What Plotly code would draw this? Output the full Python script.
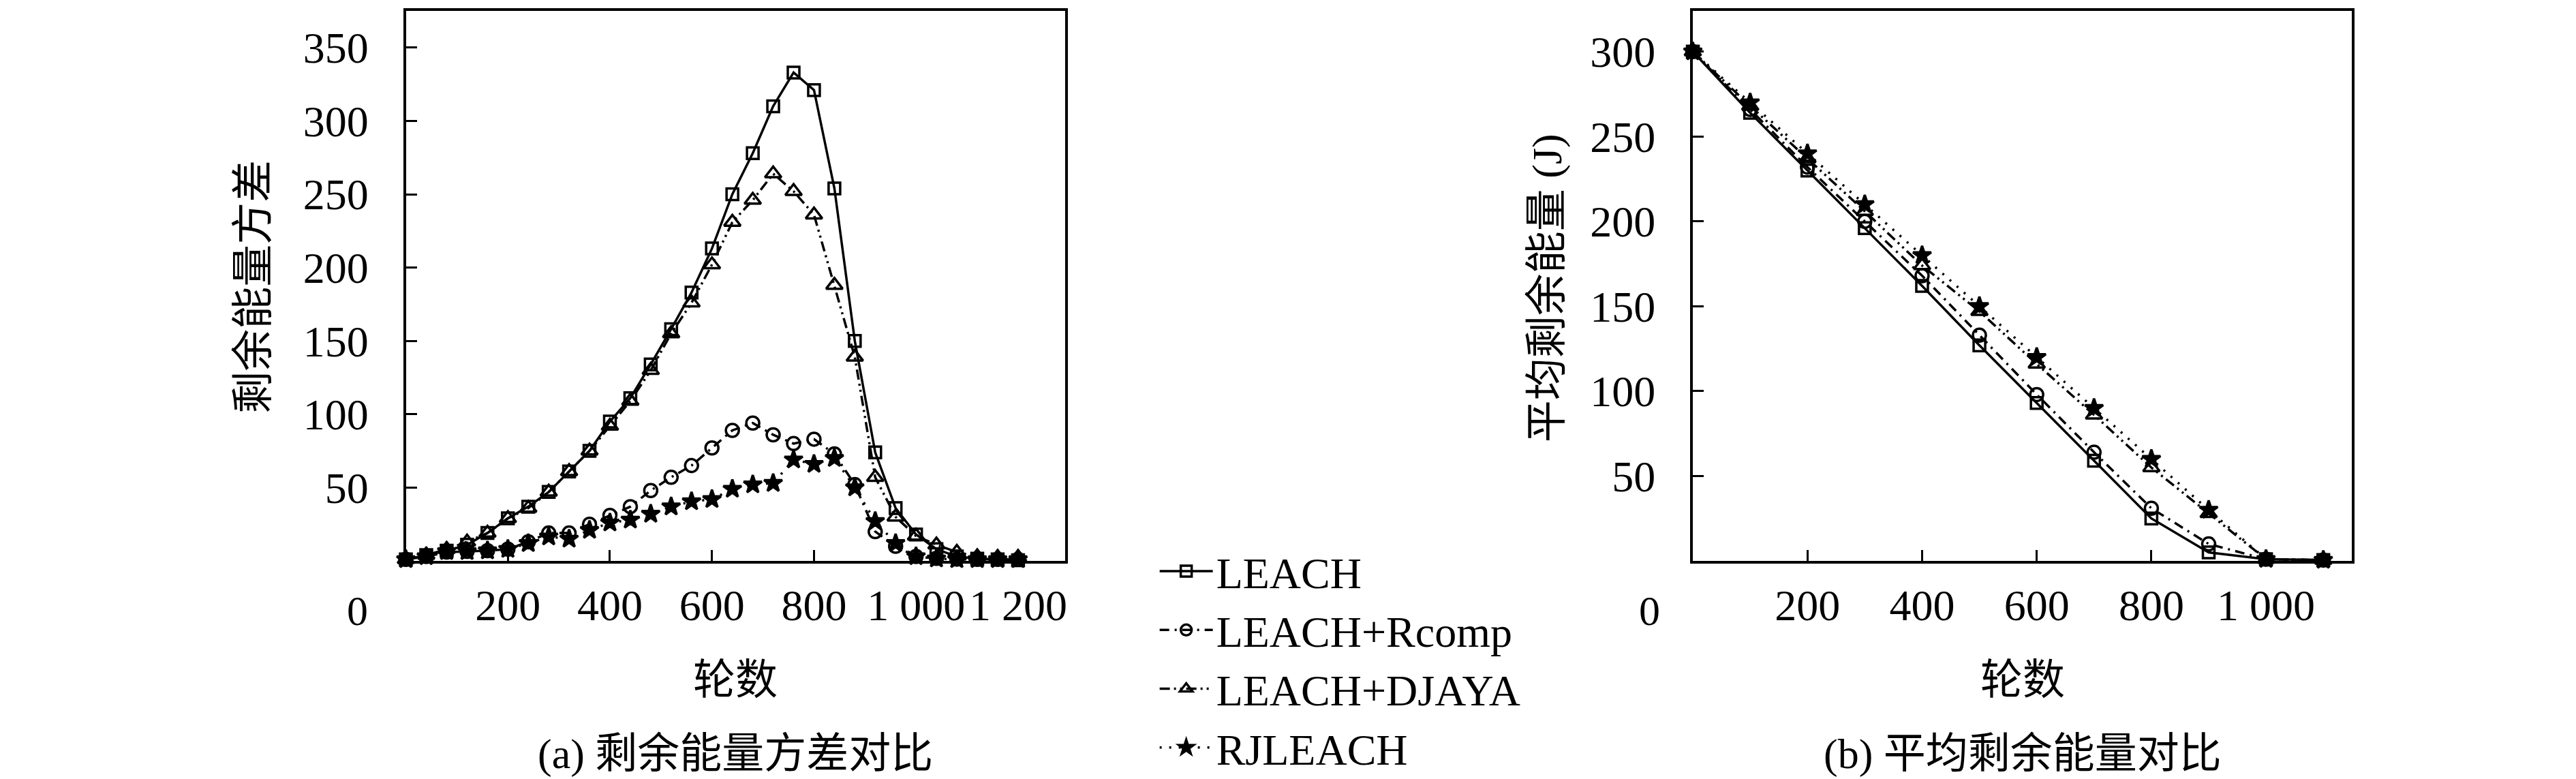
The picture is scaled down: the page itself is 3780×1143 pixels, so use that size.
import plotly.graph_objects as go

# rounds for the two panels
rounds_a = list(range(0, 1201, 40))
rounds_b = list(range(0, 1101, 100))

# (a) residual energy variance
var_leach = [1, 4, 7, 11, 19, 29, 37, 47, 61, 75, 95, 111, 134, 158, 183, 213, 250, 278, 310, 333,
             321, 254, 150, 74, 36, 18, 8, 3, 1.5, 1, 0.5]
var_rcomp = [1, 3, 6, 6.5, 7, 8, 13, 19, 19, 25, 31, 37, 48, 57, 65, 77, 89, 94, 86, 80,
             83, 73, 52, 20, 10, 3, 1.7, 1.2, 1, 1, 1]
var_djaya = [1, 4, 8, 13, 19, 29, 36, 47, 61, 75, 92, 109, 130, 155, 176, 202, 231, 246, 264, 252,
             236, 188, 139, 57, 30, 17, 11, 6, 3, 2.5, 2.5]
var_rjleach = [1, 3, 6.5, 6.5, 7, 8, 12, 16.5, 15, 21, 26, 28, 32, 37, 40.5, 42, 49, 52, 53, 69,
               66, 70, 50, 27, 12, 3, 1.5, 1, 1, 1, 1]

# (b) average residual energy (J)
avg_leach = [300, 264, 230, 196, 162, 127, 93, 59, 25, 5, 1, 0.5]
avg_rcomp = [300, 266, 232, 200, 168, 133, 98, 64, 31, 10, 1, 0.5]
avg_djaya = [300, 268, 237, 206, 174, 147, 116, 86, 55, 28, 1, 0.5]
avg_rjleach = [300, 270, 240, 210, 180, 150, 120, 90, 60, 30, 1, 0.5]

names = ["LEACH", "LEACH+Rcomp", "LEACH+DJAYA", "RJLEACH"]
symbols = ["square-open", "circle-open", "triangle-up-open", "star"]
msizes = [17, 19, 21, 20]
dashes = ["solid", "14px,8px,3px,8px", "15px,6px,3px,6px,3px,6px", "3px,11px"]

xticks_a = [200, 400, 600, 800, 1000, 1200]
xtext_a = ["200", "400", "600", "800", "1 000", "1 200"]
xticks_b = [200, 400, 600, 800, 1000]
xtext_b = ["200", "400", "600", "800", "1 000"]
yticks_a = [50, 100, 150, 200, 250, 300, 350]
yticks_b = [50, 100, 150, 200, 250, 300]

FONT = "Liberation Serif, Noto Sans CJK SC, serif"
W, H = 3780, 1143

fig = go.Figure()

series_a = [var_leach, var_rcomp, var_djaya, var_rjleach]
series_b = [avg_leach, avg_rcomp, avg_djaya, avg_rjleach]

for i, name in enumerate(names):
    marker = dict(symbol=symbols[i], size=msizes[i], color="black",
                  line=dict(color="black", width=3.5))
    fig.add_trace(go.Scatter(
        x=rounds_a, y=series_a[i], mode="lines+markers", name=name,
        line=dict(color="black", width=3.5, dash=dashes[i]),
        marker=marker, xaxis="x", yaxis="y", legendgroup=name, cliponaxis=False
    ))
    fig.add_trace(go.Scatter(
        x=rounds_b, y=series_b[i], mode="lines+markers", name=name,
        line=dict(color="black", width=3.5, dash=dashes[i]),
        marker=marker, xaxis="x2", yaxis="y2", legendgroup=name,
        showlegend=False, cliponaxis=False
    ))

axis_common = dict(
    showgrid=False, zeroline=False, showline=True, linecolor="black", linewidth=4,
    mirror=True, ticks="inside", ticklen=16, tickwidth=3, tickcolor="black",
    tickfont=dict(family=FONT, size=64, color="black"),
)

fig.update_layout(
    width=W, height=H,
    margin=dict(l=0, r=0, t=0, b=0),
    paper_bgcolor="white", plot_bgcolor="white",
    font=dict(family=FONT, size=64, color="black"),
    showlegend=True,
    xaxis=dict(domain=[588 / W, 1556 / W], range=[0, 1292], anchor="y",
               tickvals=xticks_a, ticktext=xtext_a, ticklabelstandoff=6, **axis_common),
    yaxis=dict(domain=[1 - 815 / H, 1 - 8 / H], range=[0, 375], anchor="x",
               tickvals=yticks_a, ticklabelstandoff=38, **axis_common),
    xaxis2=dict(domain=[2478 / W, 3446 / W], range=[0, 1150], anchor="y2",
                tickvals=xticks_b, ticktext=xtext_b, ticklabelstandoff=6, **axis_common),
    yaxis2=dict(domain=[1 - 815 / H, 1 - 8 / H], range=[0, 324], anchor="x2",
                tickvals=yticks_b, ticklabelstandoff=38, **axis_common),
    legend=dict(x=1690 / W, xanchor="left", y=1 - 782 / H, yanchor="top",
                font=dict(family=FONT, size=64, color="black"),
                bgcolor="rgba(0,0,0,0)", itemwidth=78, tracegroupgap=0),
)

annotations = [
    dict(text="0", x=517 / W, y=1 - 888 / H),
    dict(text="0", x=2414 / W, y=1 - 888 / H),
    dict(text="轮数", x=1072 / W, y=1 - 990 / H),
    dict(text="轮数", x=2962 / W, y=1 - 990 / H),
    dict(text="(a) 剩余能量方差对比", x=1072 / W, y=1 - 1098 / H),
    dict(text="(b) 平均剩余能量对比", x=2962 / W, y=1 - 1098 / H),
    dict(text="剩余能量方差", x=364 / W, y=1 - 413 / H, textangle=-90),
    dict(text="平均剩余能量 (J)", x=2264 / W, y=1 - 415 / H, textangle=-90),
]
for a in annotations:
    fig.add_annotation(xref="paper", yref="paper", showarrow=False,
                       xanchor="center", yanchor="middle",
                       font=dict(family=FONT, size=62, color="black"), **a)

fig.write_html("out.html")
